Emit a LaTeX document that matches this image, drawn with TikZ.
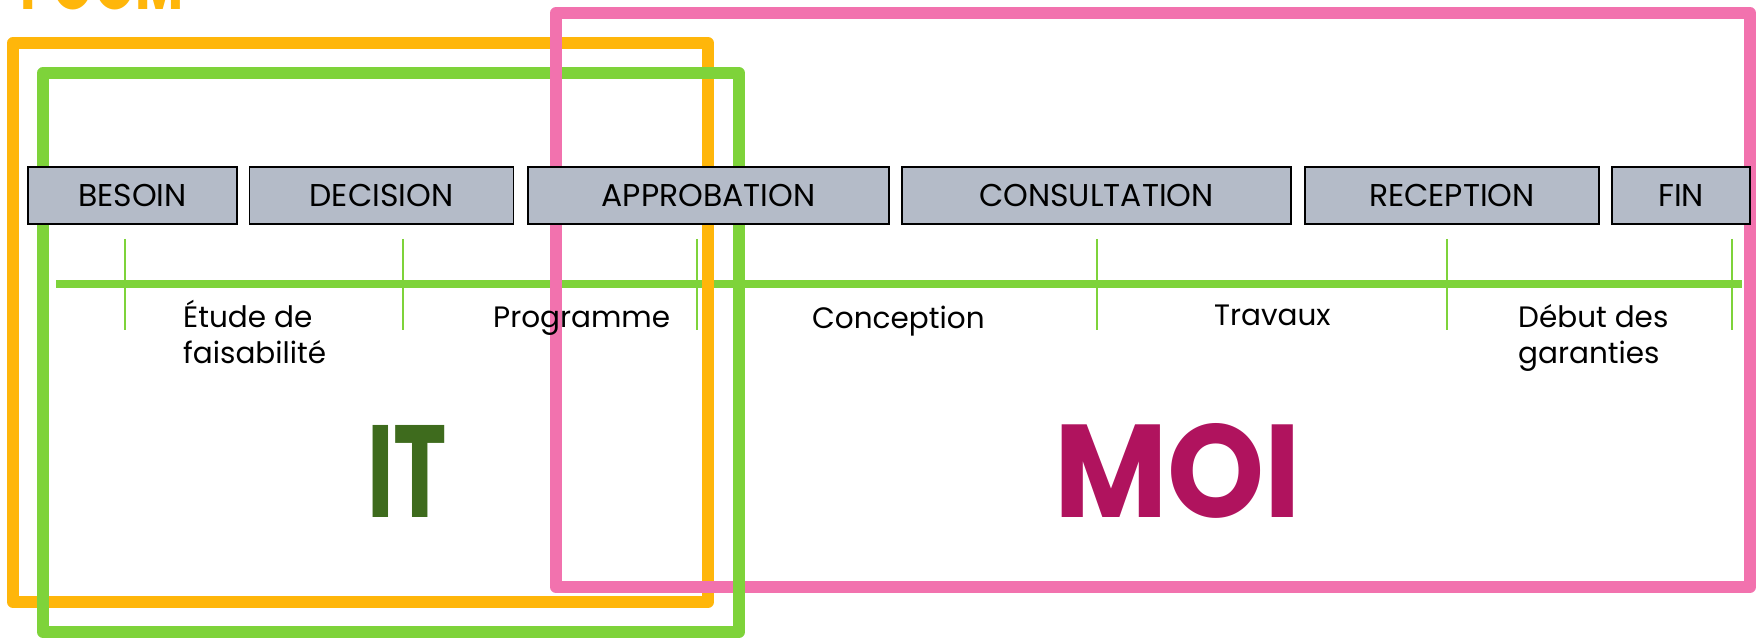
\documentclass[tikz,border=0pt]{standalone}
\usepackage{fontspec}
\setmainfont{Poppins}
\usepackage{graphicx}
\definecolor{cOrange}{HTML}{FFB60A}
\definecolor{cGreen}{HTML}{7ED33A}
\definecolor{cPink}{HTML}{F272AE}
\definecolor{cBox}{HTML}{B4BBC8}
\definecolor{cDark}{HTML}{3E6B1D}
\definecolor{cMag}{HTML}{B0135E}
\tikzset{
  frame/.style={line width=12pt, line join=round},
  phase/.style={draw=black, line width=1.6pt, fill=cBox, minimum height=57pt, inner sep=0pt,
    font=\fontsize{31.5}{31.5}\selectfont, text=black},
  tick/.style={cGreen, line width=2pt},
  lab/.style={anchor=base west, inner sep=0pt, font=\fontsize{29.5}{36}\selectfont, align=left, text=black},
}
\begin{document}
\begin{tikzpicture}[x=1pt,y=-1pt]
\useasboundingbox (0,0) rectangle (1762,639);
% top cut label
\node[anchor=south west, inner sep=0pt, text=cOrange] (poom) at (20,10)
  {\resizebox{163pt}{50pt}{\bfseries POOM}};
% timeline
\coordinate (tl0) at (56,284);
\coordinate (tl1) at (1742,284);
\draw[cGreen, line width=7.5pt] (tl0) -- (tl1);
\foreach \x/\n in {125/t1,403/t2,697/t3,1097/t4,1447/t5,1732/t6}{
  \coordinate (\n a) at (\x,239);
  \coordinate (\n b) at (\x,330);
  \draw[tick] (\n a) -- (\n b);
}
% frames
\draw[frame, cOrange] (13,43) rectangle (708,602);
\draw[frame, cGreen] (43,73) rectangle (739,632);
\draw[frame, cPink] (556,13) rectangle (1750,587);
\draw[cGreen, line width=12pt] (739,560) -- (739,610);
% phase boxes
\node[phase, minimum width=209pt] (besoin) at (132.5,195.5) {BESOIN};
\node[phase, minimum width=264pt] (decision) at (381.5,195.5) {DECISION};
\node[phase, minimum width=361pt] (approbation) at (708.5,195.5) {APPROBATION};
\node[phase, minimum width=389pt] (consultation) at (1096.5,195.5) {CONSULTATION};
\node[phase, minimum width=294pt] (reception) at (1452,195.5) {RECEPTION};
\node[phase, minimum width=138pt] (fin) at (1681,195.5) {FIN};
% labels
\node[lab] (etude) at (183,363) {Étude de\\faisabilité};
\node[lab] (programme) at (493,327) {Programme};
\node[lab] (conception) at (812,328) {Conception};
\node[lab] (travaux) at (1214,325) {Travaux};
\node[lab] (debut) at (1518,363) {Début des\\garanties};
% big labels
\node[anchor=south west, inner sep=0pt, text=cDark] (it) at (367,518)
  {\resizebox{80pt}{92pt}{\bfseries IT}};
\node[anchor=south west, inner sep=0pt, text=cMag] (moi) at (1054,519)
  {\resizebox{247pt}{94pt}{\bfseries MOI}};
\end{tikzpicture}
\end{document}
